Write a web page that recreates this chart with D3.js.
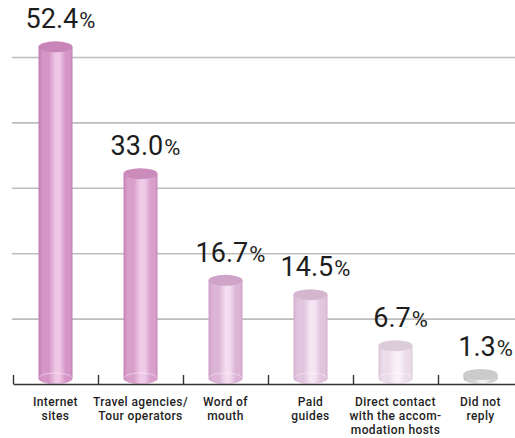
<!DOCTYPE html>
<html>
<head>
<meta charset="utf-8">
<script src="https://cdn.jsdelivr.net/npm/d3@7"></script>
<style>
  html, body { margin: 0; padding: 0; background: #fff; }
  svg { display: block; font-family: Roboto, "DejaVu Sans", sans-serif; }
</style>
</head>
<body>
<div id="chart"></div>
<script>
const categories = [
  ['Internet', 'sites'],
  ['Travel agencies/', 'Tour operators'],
  ['Word of', 'mouth'],
  ['Paid', 'guides'],
  ['Direct contact', 'with the accom-', 'modation hosts'],
  ['Did not', 'reply']
]
const values = [52.4, 33.0, 16.7, 14.5, 6.7, 1.3]
const gridTicks = [10, 20, 30, 40, 50]
// one tone per bar: dark edge / main / highlight / top
const tones = [
  ['#c47cb2', '#d596c7', '#efc6e6', '#c984b8'],
  ['#c883b7', '#d89fcb', '#f0cbe8', '#cb8bbb'],
  ['#cc9fc4', '#dcb4d6', '#f3dcef', '#cfa4c8'],
  ['#d3b0cd', '#e2c4de', '#f6e5f3', '#d5b6cf'],
  ['#dbc5d7', '#ecdcea', '#faf1f8', '#dccbd9'],
  ['#b4b4b4', '#d2d2d2', '#f2f2f2', '#cbcbcb']
]

const W = 515, H = 438
const BASE = 384
const RX = 17, RY = 5.5

const svg = d3.select('#chart')
  .append('svg')
    .attr('width', W)
    .attr('height', H)

const y = d3.scaleLinear()
  .domain([0, 50])
  .range([BASE, 57])

const x = d3.scaleBand()
  .domain(d3.range(values.length))
  .range([13, 523])

// gridlines
const grid = svg.append('g')
  .attr('transform', 'translate(12, 0)')
  .call(d3.axisLeft(y).tickValues(gridTicks).tickSize(-503).tickFormat(''))
grid.select('.domain').remove()
grid.selectAll('line')
  .attr('stroke', '#bdbdbd')
  .attr('stroke-width', 1.6)

// gradients
const defs = svg.append('defs')
tones.forEach((t, i) => {
  const g = defs.append('linearGradient')
    .attr('id', 'cyl' + i)
    .attr('x1', '0%').attr('x2', '100%')
    .attr('y1', '0%').attr('y2', '0%')
  const stops = [[0, t[0]], [0.12, t[1]], [0.3, t[1]], [0.5, t[2]], [0.62, t[2]], [0.8, t[1]], [0.93, t[1]], [1, t[0]]]
  stops.forEach(s => g.append('stop').attr('offset', s[0]).attr('stop-color', s[1]))
})

// cylinders
const bars = svg.selectAll('g.bar')
  .data(values)
  .enter().append('g')
    .attr('class', 'bar')

const topOf = d => Math.min(y(d), BASE - 2 * RY - 4)

bars.append('path')
  .attr('fill', (d, i) => `url(#cyl${i})`)
  .attr('d', (d, i) => {
    const x0 = x(i) + x.bandwidth() / 2 - RX
    const x1 = x0 + 2 * RX
    const tc = topOf(d) + RY
    const bc = BASE - RY
    return `M${x0},${tc} L${x0},${bc} A${RX},${RY} 0 0 0 ${x1},${bc} L${x1},${tc} Z`
  })

// faint bottom rim
bars.append('path')
  .attr('fill', 'none')
  .attr('stroke', 'rgba(255,255,255,0.45)')
  .attr('stroke-width', 1)
  .attr('d', (d, i) => {
    const x0 = x(i) + x.bandwidth() / 2 - RX + 1
    const x1 = x0 + 2 * RX - 2
    const bc = BASE - RY - 1
    return `M${x0},${bc} A${RX - 1},${RY - 1} 0 0 1 ${x1},${bc}`
  })

bars.append('ellipse')
  .attr('cx', (d, i) => x(i) + x.bandwidth() / 2)
  .attr('cy', d => topOf(d) + RY)
  .attr('rx', RX)
  .attr('ry', RY)
  .attr('fill', (d, i) => tones[i][3])

// axis with ticks at band edges, pointing up
const xe = d3.scaleLinear().domain([0, values.length]).range([13, 523])
const axis = svg.append('g')
  .attr('transform', `translate(0, ${BASE})`)
  .call(d3.axisTop(xe).ticks(values.length).tickSizeInner(9).tickSizeOuter(0).tickFormat(''))
axis.selectAll('path, line')
  .attr('stroke', '#333')
  .attr('stroke-width', 1.4)

// value labels
const vl = svg.selectAll('text.value')
  .data(values)
  .enter().append('text')
    .attr('class', 'value')
    .attr('x', (d, i) => x(i) + x.bandwidth() / 2 + 5)
    .attr('y', d => topOf(d) - 13)
    .attr('text-anchor', 'middle')
    .attr('fill', '#1e1e1e')
vl.append('tspan')
  .attr('font-size', 27)
  .text(d => d.toFixed(1))
vl.append('tspan')
  .attr('font-size', 22)
  .attr('dx', 1)
  .text('%')

// category labels, one text per line
const cl = svg.selectAll('g.cat')
  .data(categories)
  .enter().append('g')
    .attr('class', 'cat')
    .attr('transform', (d, i) => `translate(${x(i) + x.bandwidth() / 2}, 406)`)
cl.selectAll('text')
  .data(d => d)
  .enter().append('text')
    .attr('y', (d, i) => i * 14)
    .attr('text-anchor', 'middle')
    .attr('font-size', 12)
    .attr('font-weight', 500)
    .attr('letter-spacing', 0.4)
    .attr('fill', '#1e1e1e')
    .text(d => d)
</script>
</body>
</html>
